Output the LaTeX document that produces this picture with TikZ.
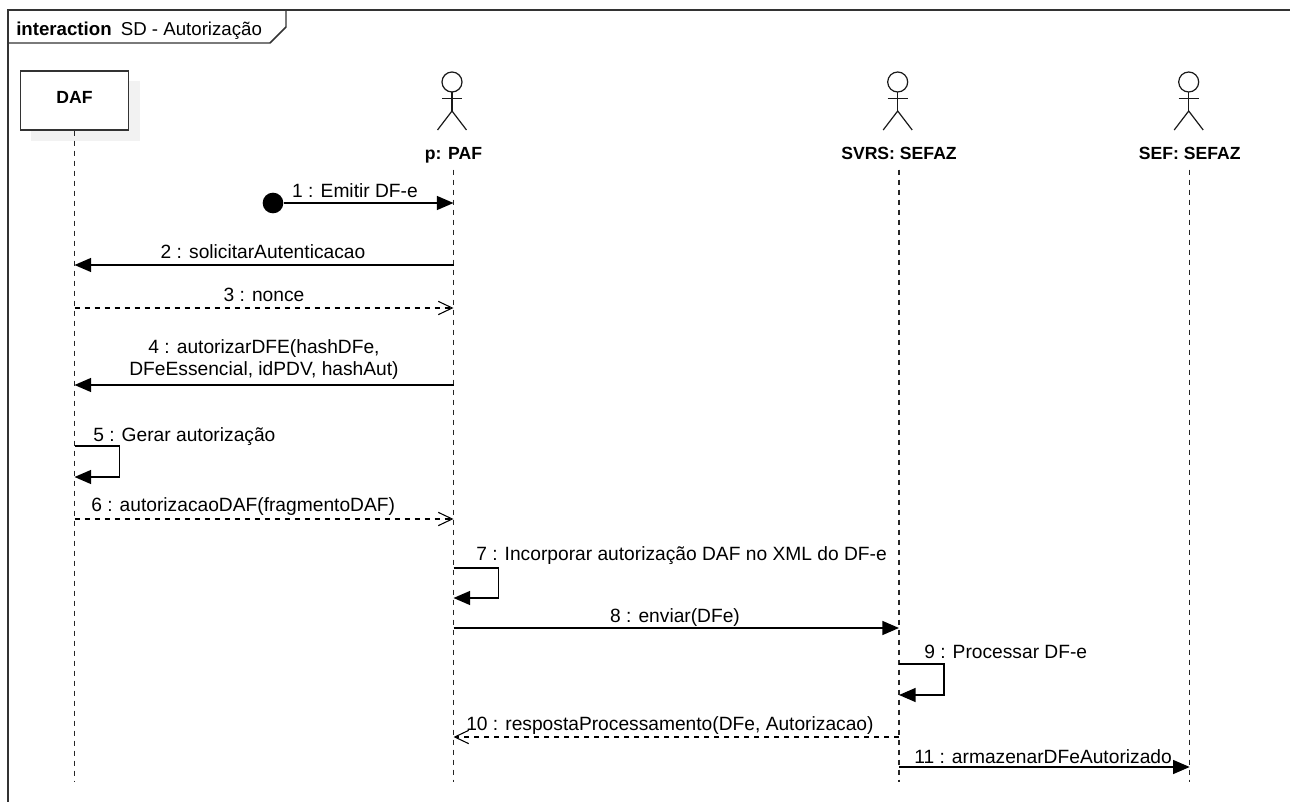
\documentclass[tikz,border=0pt]{standalone}
\usepackage{fontspec}
\setmainfont{Liberation Sans}
\usetikzlibrary{arrows.meta,positioning}
\definecolor{shadowgray}{HTML}{F2F2F2}
\definecolor{framegray}{HTML}{333333}
\tikzset{
	frameline/.style={draw=framegray,line width=1.5pt},
	lifeline/.style={draw=black!85,line width=1.1pt,dash pattern=on 3.75pt off 3.75pt},
	instance/.style={draw=framegray,line width=1.1pt,fill=white,minimum width=81pt,minimum height=44pt,inner sep=0pt,font=\bfseries\fontsize{13.2}{15}\selectfont},
	actorlabel/.style={inner sep=0pt,text height=10pt,text depth=2.5pt,font=\bfseries\fontsize{13.2}{15}\selectfont},
	stick/.style={draw=black!90,line width=.9pt},
	msg/.style={draw=black,line width=1.1pt,-{Triangle[length=12.5pt,width=10.5pt]}},
	reply/.style={draw=black,line width=.9pt,dash pattern=on 3.75pt off 3.75pt,-{Straight Barb[length=10.5pt,width=10pt,line width=.8pt]}},
	msglabel/.style={inner sep=0pt,text height=10.5pt,text depth=3pt,font=\fontsize{14.4}{16.5}\selectfont},
	startdot/.style={circle,fill=black,minimum size=15.5pt,inner sep=0pt}
}
\begin{document}
\begin{tikzpicture}[x=.75pt,y=-.75pt]
\useasboundingbox (0,0) rectangle (1290,802);
\fill[white] (0,0) rectangle (1290,802);
\draw[frameline] (8,802) -- (8,10) -- (1290,10);
\draw[draw=framegray,line width=1.1pt] (286,10) -- (286,27) -- (270,43) -- (8,43);
\node[msglabel,font=\fontsize{14}{16}\selectfont,anchor=west] (title) at (16,31) {\textbf{interaction}\hspace{3pt} SD - Autorização};
\fill[shadowgray] (31,81) rectangle (140,141);
\node[instance] (daf) at (74.5,100.5) {\raisebox{4.5pt}{DAF}};
\node[actorlabel] (paf) at (453.5,155) {p: PAF};
\node[actorlabel] (svrs) at (899,155) {SVRS: SEFAZ};
\node[actorlabel] (sef) at (1189.7,155) {SEF: SEFAZ};
\foreach \x in {452,897.7,1188.7}
{
	\draw[stick] (\x,82) circle (10);
	\draw[stick] (\x-10,98.7) -- (\x+10,98.7);
	\draw[stick] (\x,92) -- (\x,111);
	\draw[stick] (\x-14.5,130) -- (\x,111) -- (\x+14.5,130);
}
\foreach \row/\y in {1/203,2/265,3/308,4/385,5/446,5b/477,6/519,7/568,7b/598,8/628,9/664,9b/695,10/737,11/767,end/782}
{
	\coordinate (daf-\row) at (daf.center |- 0,\y);
	\coordinate (paf-\row) at (paf.center |- 0,\y);
	\coordinate (svrs-\row) at (svrs.center |- 0,\y);
	\coordinate (sef-\row) at (sef.center |- 0,\y);
}
\draw[lifeline] (daf.south) -- (daf-end);
\draw[lifeline,shorten <=4.5pt] (paf.south) -- (paf-end);
\draw[lifeline,shorten <=4.5pt] (svrs.south) -- (svrs-end);
\draw[lifeline,shorten <=4.5pt] (sef.south) -- (sef-end);
\node[startdot] (start) at (273,203) {};
\draw[msg] (start) -- (paf-1);
\draw[msg] (paf-2) -- (daf-2);
\draw[reply] (daf-3) -- (paf-3);
\draw[msg] (paf-4) -- (daf-4);
\draw[msg] (daf-5) -- ++(45,0) |- (daf-5b);
\draw[reply] (daf-6) -- (paf-6);
\draw[msg] (paf-7) -- ++(45,0) |- (paf-7b);
\draw[msg] (paf-8) -- (svrs-8);
\draw[msg] (svrs-9) -- ++(45,0) |- (svrs-9b);
\draw[reply] (svrs-10) -- (paf-10);
\draw[msg] (svrs-11) -- (sef-11);
\node[msglabel] (m1) at (355,193) {1 : Emitir DF-e};
\node[msglabel] (m2) at (263,254) {2 : solicitarAutenticacao};
\node[msglabel] (m3) at (264,297) {3 : nonce};
\node[msglabel,align=center] (m4) at (264,371) {4 : autorizarDFE(hashDFe,\\DFeEssencial, idPDV, hashAut)};
\node[msglabel,anchor=west] (m5) at (93,437) {5 : Gerar autorização};
\node[msglabel,anchor=west] (m6) at (91,507) {6 : autorizacaoDAF(fragmentoDAF)};
\node[msglabel,anchor=west] (m7) at (476,556) {7 : Incorporar autorização DAF no XML do DF-e};
\node[msglabel] (m8) at (675,617) {8 : enviar(DFe)};
\node[msglabel,anchor=west] (m9) at (924,653) {9 : Processar DF-e};
\node[msglabel,anchor=west] (m10) at (466,725) {10 : respostaProcessamento(DFe, Autorizacao)};
\node[msglabel,anchor=west] (m11) at (914,758) {11 : armazenarDFeAutorizado};
\end{tikzpicture}
\end{document}
